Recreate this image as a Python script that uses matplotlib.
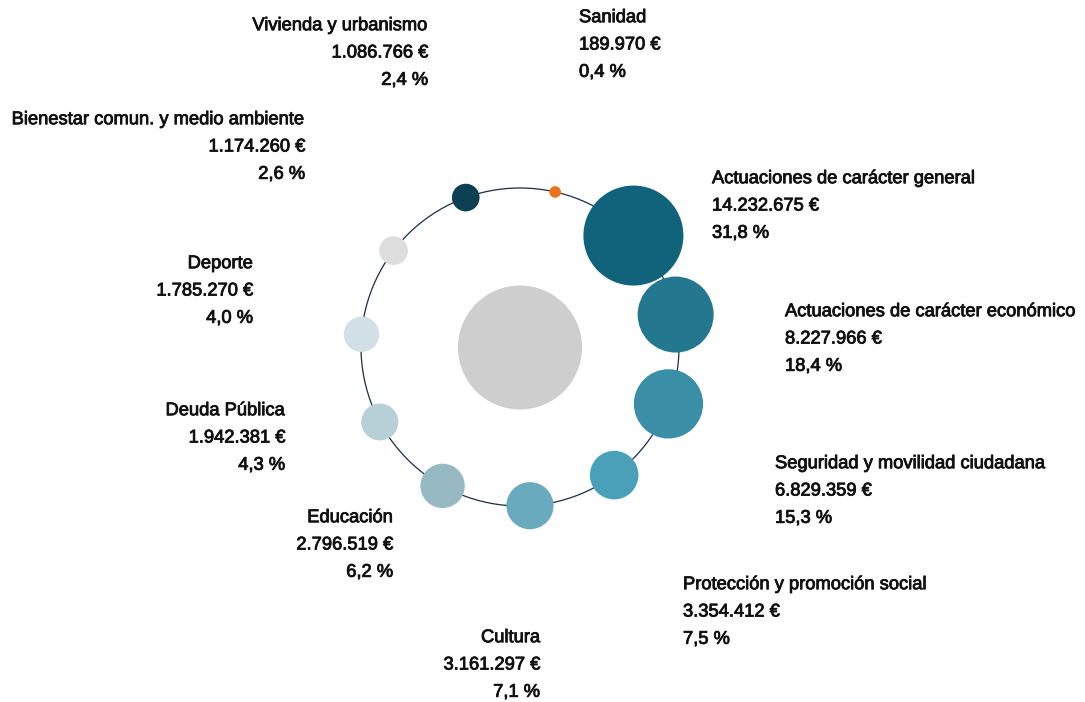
import numpy as np
import matplotlib
matplotlib.use("Agg")
import matplotlib.pyplot as plt
from matplotlib.patches import Circle
import matplotlib.patheffects as pe

# spending by policy area, sorted from largest to smallest
areas = [
    "Actuaciones de carácter general",
    "Actuaciones de carácter económico",
    "Seguridad y movilidad ciudadana",
    "Protección y promoción social",
    "Cultura",
    "Educación",
    "Deuda Pública",
    "Deporte",
    "Bienestar comun. y medio ambiente",
    "Vivienda y urbanismo",
    "Sanidad",
]
amounts = [14232675, 8227966, 6829359, 3354412, 3161297, 2796519,
           1942381, 1785270, 1174260, 1086766, 189970]
colors = ["#10637a", "#23788f", "#3a8ea5", "#4aa0b9", "#6aaabe", "#96b9c3",
          "#b7d0d8", "#d0e0e6", "#dddddd", "#0c4052", "#ee7218"]

# label block anchors relative to ring centre (px)
label_pos = [(192, -141), (265, -8), (255, 144), (163, 265), (20, 318),
             (-127, 198), (-235, 91), (-267, -56), (-215, -200),
             (-92, -294), (59, -302)]

W, H = 1085, 702
cx, cy = 520, 347
ring_r = 159
max_r = 50
start = 45.5

amounts = np.array(amounts, dtype=float)
pct = amounts / amounts.sum() * 100
radii = max_r * np.sqrt(amounts / amounts.max())
angles = np.deg2rad(start + np.arange(len(amounts)) * 360 / len(amounts))

fig = plt.figure(figsize=(W / 100, H / 100), dpi=100)
ax = fig.add_axes([0, 0, 1, 1])
ax.set_xlim(0, W)
ax.set_ylim(H, 0)
ax.axis("off")

ax.add_patch(Circle((cx, cy), ring_r, fill=False, ec="#1c2b47", lw=0.9, zorder=1))
ax.add_patch(Circle((cx, cy + 0.5), 62, fc="#cecece", ec="none", zorder=2))

for i, name in enumerate(areas):
    x = cx + ring_r * np.sin(angles[i])
    y = cy - ring_r * np.cos(angles[i])
    ax.add_patch(Circle((x, y), radii[i], fc=colors[i], ec="none", zorder=3))

    lx, ly = label_pos[i]
    ha = "left" if lx > 0 and i != 4 else "right"
    lines = [name,
             f"{int(amounts[i]):,}".replace(",", ".") + " €",
             f"{pct[i]:.1f} %".replace(".", ",")]
    for k, t in enumerate(lines):
        ax.text(cx + lx, cy + ly + (k - 1) * 27.3, t, ha=ha, va="center",
                fontsize=13.2, family="Liberation Sans", color="#111111",
                path_effects=[pe.withStroke(linewidth=0.6, foreground="#111111")])

fig.savefig("out.png", dpi=100)
